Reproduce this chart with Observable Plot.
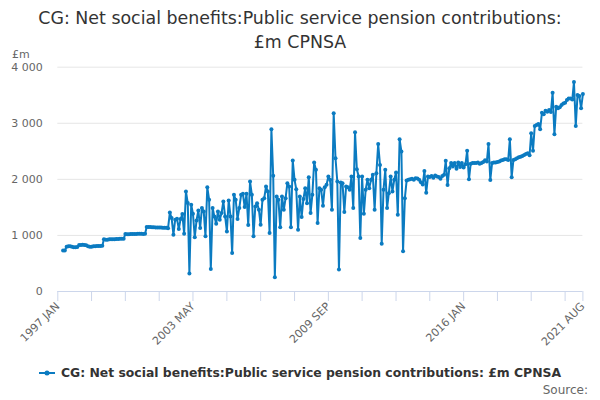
<!DOCTYPE html>
<html><head><meta charset="utf-8">
<script src="https://cdn.jsdelivr.net/npm/d3@7"></script>
<script src="https://cdn.jsdelivr.net/npm/@observablehq/plot@0.6"></script>
<style>
body{margin:0;background:#fff;font-family:"DejaVu Sans",sans-serif;}
#wrap{position:relative;width:600px;height:400px;overflow:hidden;background:#fff;}
#chart{position:absolute;left:0;top:40px;z-index:0;}
#title{position:absolute;top:6px;left:0;width:600px;text-align:center;font-size:17.4px;line-height:24px;color:#333;z-index:2;}
#unit{position:absolute;left:12px;top:48px;font-size:11px;line-height:13px;color:#666;z-index:2;}
#legend{position:absolute;top:365px;left:0;width:600px;text-align:center;font-size:12.4px;line-height:16px;font-weight:bold;color:#333;z-index:2;}
#legend svg{vertical-align:middle;margin-right:6px;position:relative;top:-1px;}
#source{position:absolute;right:12px;top:383px;font-size:12px;line-height:14px;color:#666;z-index:2;}
</style></head>
<body>
<div id="wrap">
  <div id="chart"></div>
  <div id="title">CG: Net social benefits:Public service pension contributions:<br>£m CPNSA</div>
  <div id="unit">£m</div>
  <div id="legend"><svg width="16" height="10"><line x1="0" y1="5" x2="16" y2="5" stroke="#0b7bc1" stroke-width="2"/><circle cx="8" cy="5" r="2.5" fill="#0b7bc1"/></svg>CG: Net social benefits:Public service pension contributions: £m CPNSA</div>
  <div id="source">Source:</div>
</div>
<script>
// Monthly values, £m, from 1997 APR to 2021 AUG
const startYear = 1997;
const startMonth = 3; // April (0-based)
const values = [
  // 1997 Apr-Dec
  730,730,800,805,805,800,790,790,795,
  // 1998
  830,830,835,830,825,805,800,800,805,805,810,810,
  // 1999
  810,815,930,925,925,930,930,930,930,935,935,940,
  // 2000
  940,940,1025,1020,1020,1025,1025,1025,1025,1030,1030,1030,
  // 2001
  1025,1030,1150,1150,1150,1145,1145,1140,1140,1140,1140,1135,
  // 2002
  1135,1135,1130,1410,1310,1013,1280,1298,1114,1292,1381,1031,
  // 2003
  1784,1577,320,1547,1387,966,1268,1446,1132,1488,1428,984,
  // 2004
  1861,1636,403,1488,1339,1209,1428,1280,1399,1606,1339,1072,
  // 2005
  1624,1339,688,1724,1636,1292,1488,1724,1742,1506,1742,1186,
  // 2006
  1961,1724,985,1517,1576,1458,1192,1636,1665,1873,1784,1043,
  // 2007
  2892,2062,255,1695,1636,1144,1695,1458,1665,1932,1873,1144,
  // 2008
  2335,1991,1825,1103,1695,1328,1648,1843,1576,2039,1399,1724,
  // 2009
  2300,2169,1221,1843,1814,1529,1861,1903,2050,1991,1458,3177,
  // 2010
  2376,1962,391,1944,1932,1417,1873,1861,1814,2050,1487,2839,
  // 2011
  2181,2050,954,2050,1387,1814,1991,1843,1991,2080,1458,2110,
  // 2012
  2631,2258,853,1814,2169,1487,1754,2050,1784,1991,2122,1369,
  // 2013
  2715,2496,717,1665,1979,1991,2003,2009,1991,2021,2015,1991,
  // 2014
  1950,1910,2150,1760,2050,2040,2060,2030,2070,2050,2040,2010,
  // 2015
  2060,2080,2330,1900,2200,2290,2230,2290,2190,2300,2220,2290,
  // 2016
  2210,2270,2510,2000,2280,2290,2290,2290,2300,2280,2290,2310,
  // 2017
  2340,2320,2630,1990,2290,2300,2300,2310,2320,2335,2346,2358,
  // 2018
  2358,2346,2714,2039,2346,2358,2376,2393,2405,2417,2435,2450,
  // 2019
  2465,2430,2821,2512,2951,2969,2987,2892,3189,3159,3224,3207,
  // 2020
  3236,3200,3544,2803,3295,3266,3284,3325,3354,3366,3414,3443,
  // 2021 Jan-Aug
  3443,3426,3734,2951,3503,3485,3266,3521
];
// x-axis ticks: months after 1997 JAN, and their labels
const tickMonths = [0,19,38,57,76,95,114,133,152,171,190,209,228,247,266,285,295];
const tickLabels = ["1997 JAN","","","","2003 MAY","","","","2009 SEP","","","","2016 JAN","","","","2021 AUG"];
const yTicks = [0,1000,2000,3000,4000];
const seriesColor = "#0b7bc1";

const data = values.map((v, i) => ({date: new Date(Date.UTC(startYear, startMonth + i, 1)), value: v}));
const tickDates = tickMonths.map(k => new Date(Date.UTC(1997, k, 1)));
const labelMap = new Map(tickDates.map((d, i) => [+d, tickLabels[i]]));
const fmt = d3.format(",");

const chart = Plot.plot({
  width: 600,
  height: 320,
  marginTop: 26.7,
  marginBottom: 69,
  marginLeft: 57.3,
  marginRight: 17.6,
  style: {fontFamily: "DejaVu Sans, sans-serif", fontSize: "11px", color: "#666", background: "none"},
  x: {type: "utc", domain: [new Date(Date.UTC(1997, 0, 1)), new Date(Date.UTC(2021, 7, 1))]},
  y: {domain: [0, 4000]},
  marks: [
    Plot.gridY(yTicks.slice(1), {stroke: "#e6e6e6", strokeOpacity: 1}),
    Plot.axisY(yTicks, {tickSize: 0, tickPadding: 15, label: null, fill: "#666",
      tickFormat: d => fmt(d).replace(/,/g, " ")}),
    Plot.ruleY([0], {stroke: "#ccd6eb"}),
    Plot.axisX(tickDates, {tickSize: 10, tickPadding: 3, tickRotate: -45, label: null,
      stroke: "#ccd6eb", strokeOpacity: 1, fill: "#666",
      tickFormat: d => labelMap.get(+d) ?? ""}),
    Plot.line(data, {x: "date", y: "value", stroke: seriesColor, strokeWidth: 2}),
    Plot.dot(data, {x: "date", y: "value", r: 2, fill: seriesColor})
  ]
});
document.getElementById("chart").appendChild(chart);
</script>
</body></html>
